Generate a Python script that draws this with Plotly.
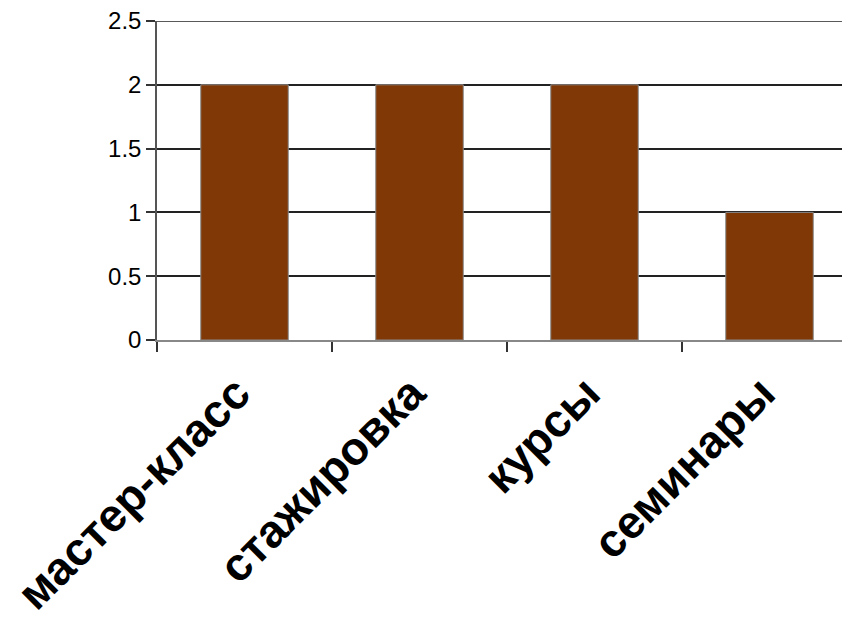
import plotly.graph_objects as go

categories = ["мастер-класс", "стажировка", "курсы", "семинары"]
values = [2, 2, 2, 1]
y_ticks = [0, 0.5, 1, 1.5, 2, 2.5]
y_labels = ["0", "0.5", "1", "1.5", "2", "2.5"]

fig = go.Figure(go.Bar(
    x=categories, y=values, width=0.5,
    marker=dict(color="#7F3806", line=dict(color="#8a8a8a", width=1)),
))

fig.update_layout(
    width=842, height=611,
    margin=dict(l=149, r=0, t=13, b=279),
    paper_bgcolor="white", plot_bgcolor="white",
    showlegend=False,
    font=dict(family="Liberation Sans, Arial", color="black"),
)
# top gridline at the upper end of the value range
fig.add_shape(type="line", xref="paper", yref="y", x0=0, x1=1,
              y0=y_ticks[-1], y1=y_ticks[-1], line=dict(color="#222", width=1.5))
fig.update_xaxes(
    range=[-0.5, 3.46], type="category",
    tickson="boundaries", ticks="outside", ticklen=10, tickcolor="#333", tickwidth=1.5,
    showline=True, linecolor="#888", linewidth=1.5,
    tickangle=-45, tickfont=dict(size=46, weight="bold", color="black"),
    ticklabelstandoff=6, ticklabelshift=-8,
    showgrid=False,
)
fig.update_yaxes(
    range=[0, 2.5], tickvals=y_ticks, ticktext=y_labels,
    ticks="outside", ticklen=9, tickcolor="#333", tickwidth=1.5,
    showline=True, linecolor="#555", linewidth=1.5,
    showgrid=True, gridcolor="#222", gridwidth=1.5,
    tickfont=dict(size=24, color="black"),
    ticklabeloverflow="allow",
    zeroline=False,
)
fig.write_html("out.html")
